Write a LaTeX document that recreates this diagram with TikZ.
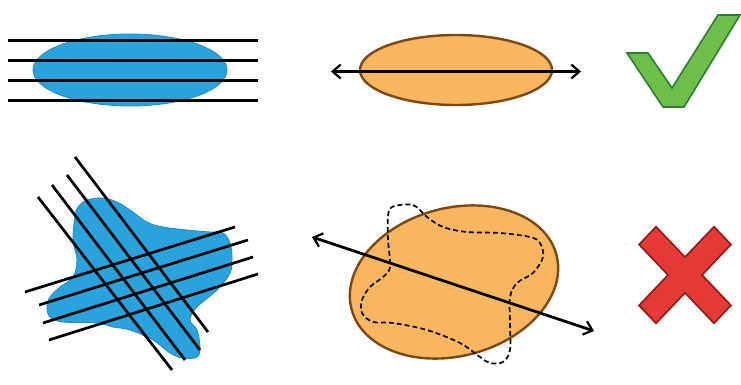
\documentclass[tikz,border=0pt]{standalone}
\usetikzlibrary{arrows.meta}
\definecolor{blobblue}{HTML}{2AA3DD}
\definecolor{blobedge}{HTML}{1E88C4}
\definecolor{eggfill}{HTML}{F8B660}
\definecolor{eggedge}{HTML}{7A4A12}
\definecolor{okfill}{HTML}{6CBF4A}
\definecolor{okedge}{HTML}{2E7D32}
\definecolor{nofill}{HTML}{E53935}
\definecolor{noedge}{HTML}{8B1A1A}
\tikzset{
  blackline/.style={line width=2.7pt, black},
  twoway/.style={line width=2.7pt, black, {Straight Barb[length=8pt,width=14pt,line width=2.2pt]}-{Straight Barb[length=8pt,width=14pt,line width=2.2pt]}},
  blueblob/.style={fill=blobblue, draw=blobedge, line width=0.8pt},
  egg/.style={fill=eggfill, draw=eggedge, line width=2.4pt},
  dashblob/.style={draw=black, line width=1.7pt, dash pattern=on 5pt off 3pt},
}
\begin{document}
\begin{tikzpicture}[x=1pt,y=-1pt]
\useasboundingbox (0,0) rectangle (741,385);
\fill[white] (0,0) rectangle (741,385);
% ---- top left
\path[blueblob] (130,70) ellipse [x radius=97, y radius=36];
\foreach \yy in {40.7,60.7,80.7,100.7}{
  \draw[blackline] (8,\yy) -- (258,\yy);
}
% ---- top middle
\path[egg] (456,70) ellipse [x radius=96, y radius=35];
\coordinate (ta) at (331,71.5);
\coordinate (tb) at (581,71.5);
\draw[twoway] (ta) -- (tb);
% ---- check mark
\draw[fill=okfill, draw=okedge, line width=1.6pt, line join=miter]
  (627,53) -- (648,53) -- (672,88) -- (718,15) -- (740,15) -- (684,107) -- (663,107) -- cycle;
% ---- bottom left blob
\path[blueblob] plot[smooth cycle, tension=0.6] coordinates {
 (87,200) (103,198) (117,202) (130,210) (147,222) (163,227) (187,230)
 (210,232) (223,233) (230,243) (232,257) (230,273) (217,290) (197,307)
 (190,320) (197,330) (200,347) (197,357) (183,358) (170,353) (153,340)
 (130,330) (113,327) (97,323) (63,322) (50,317) (47,307) (50,297)
 (60,287) (73,277) (77,260) (73,240) (75,217) (78,207)};
\draw[blackline] (38,197) -- (172,370);
\draw[blackline] (52,185) -- (185,360);
\draw[blackline] (67,175) -- (200,350);
\draw[blackline] (75,157) -- (208,332);
\draw[blackline] (25,292) -- (235,227);
\draw[blackline] (39,305) -- (248,240);
\draw[blackline] (43,323) -- (253,257);
\draw[blackline] (49,340) -- (258,274);
% ---- bottom middle
\path[egg] (454,282) ellipse [x radius=106, y radius=74, rotate=15];
\draw[dashblob] plot[smooth cycle, tension=0.55] coordinates {
 (392,207) (413,205) (427,217) (443,227) (467,232) (500,233) (530,237)
 (540,243) (543,257) (533,273) (517,283) (510,297) (510,323) (510,350)
 (503,362) (490,363) (480,357) (460,343) (427,330) (393,323) (373,322)
 (362,313) (362,300) (370,287) (383,277) (390,267) (388,240) (388,217)};
\coordinate (ba) at (312,237);
\coordinate (bb) at (594,331);
\draw[twoway] (ba) -- (bb);
% ---- cross
\begin{scope}[shift={(685,275)}, yscale=1.05]
\draw[fill=nofill, draw=noedge, line width=1.6pt, line join=miter]
  (0,-17) -- (29,-46) -- (46,-29) -- (17,0) -- (46,29) -- (29,46) -- (0,17)
  -- (-29,46) -- (-46,29) -- (-17,0) -- (-46,-29) -- (-29,-46) -- cycle;
\end{scope}
\end{tikzpicture}
\end{document}
